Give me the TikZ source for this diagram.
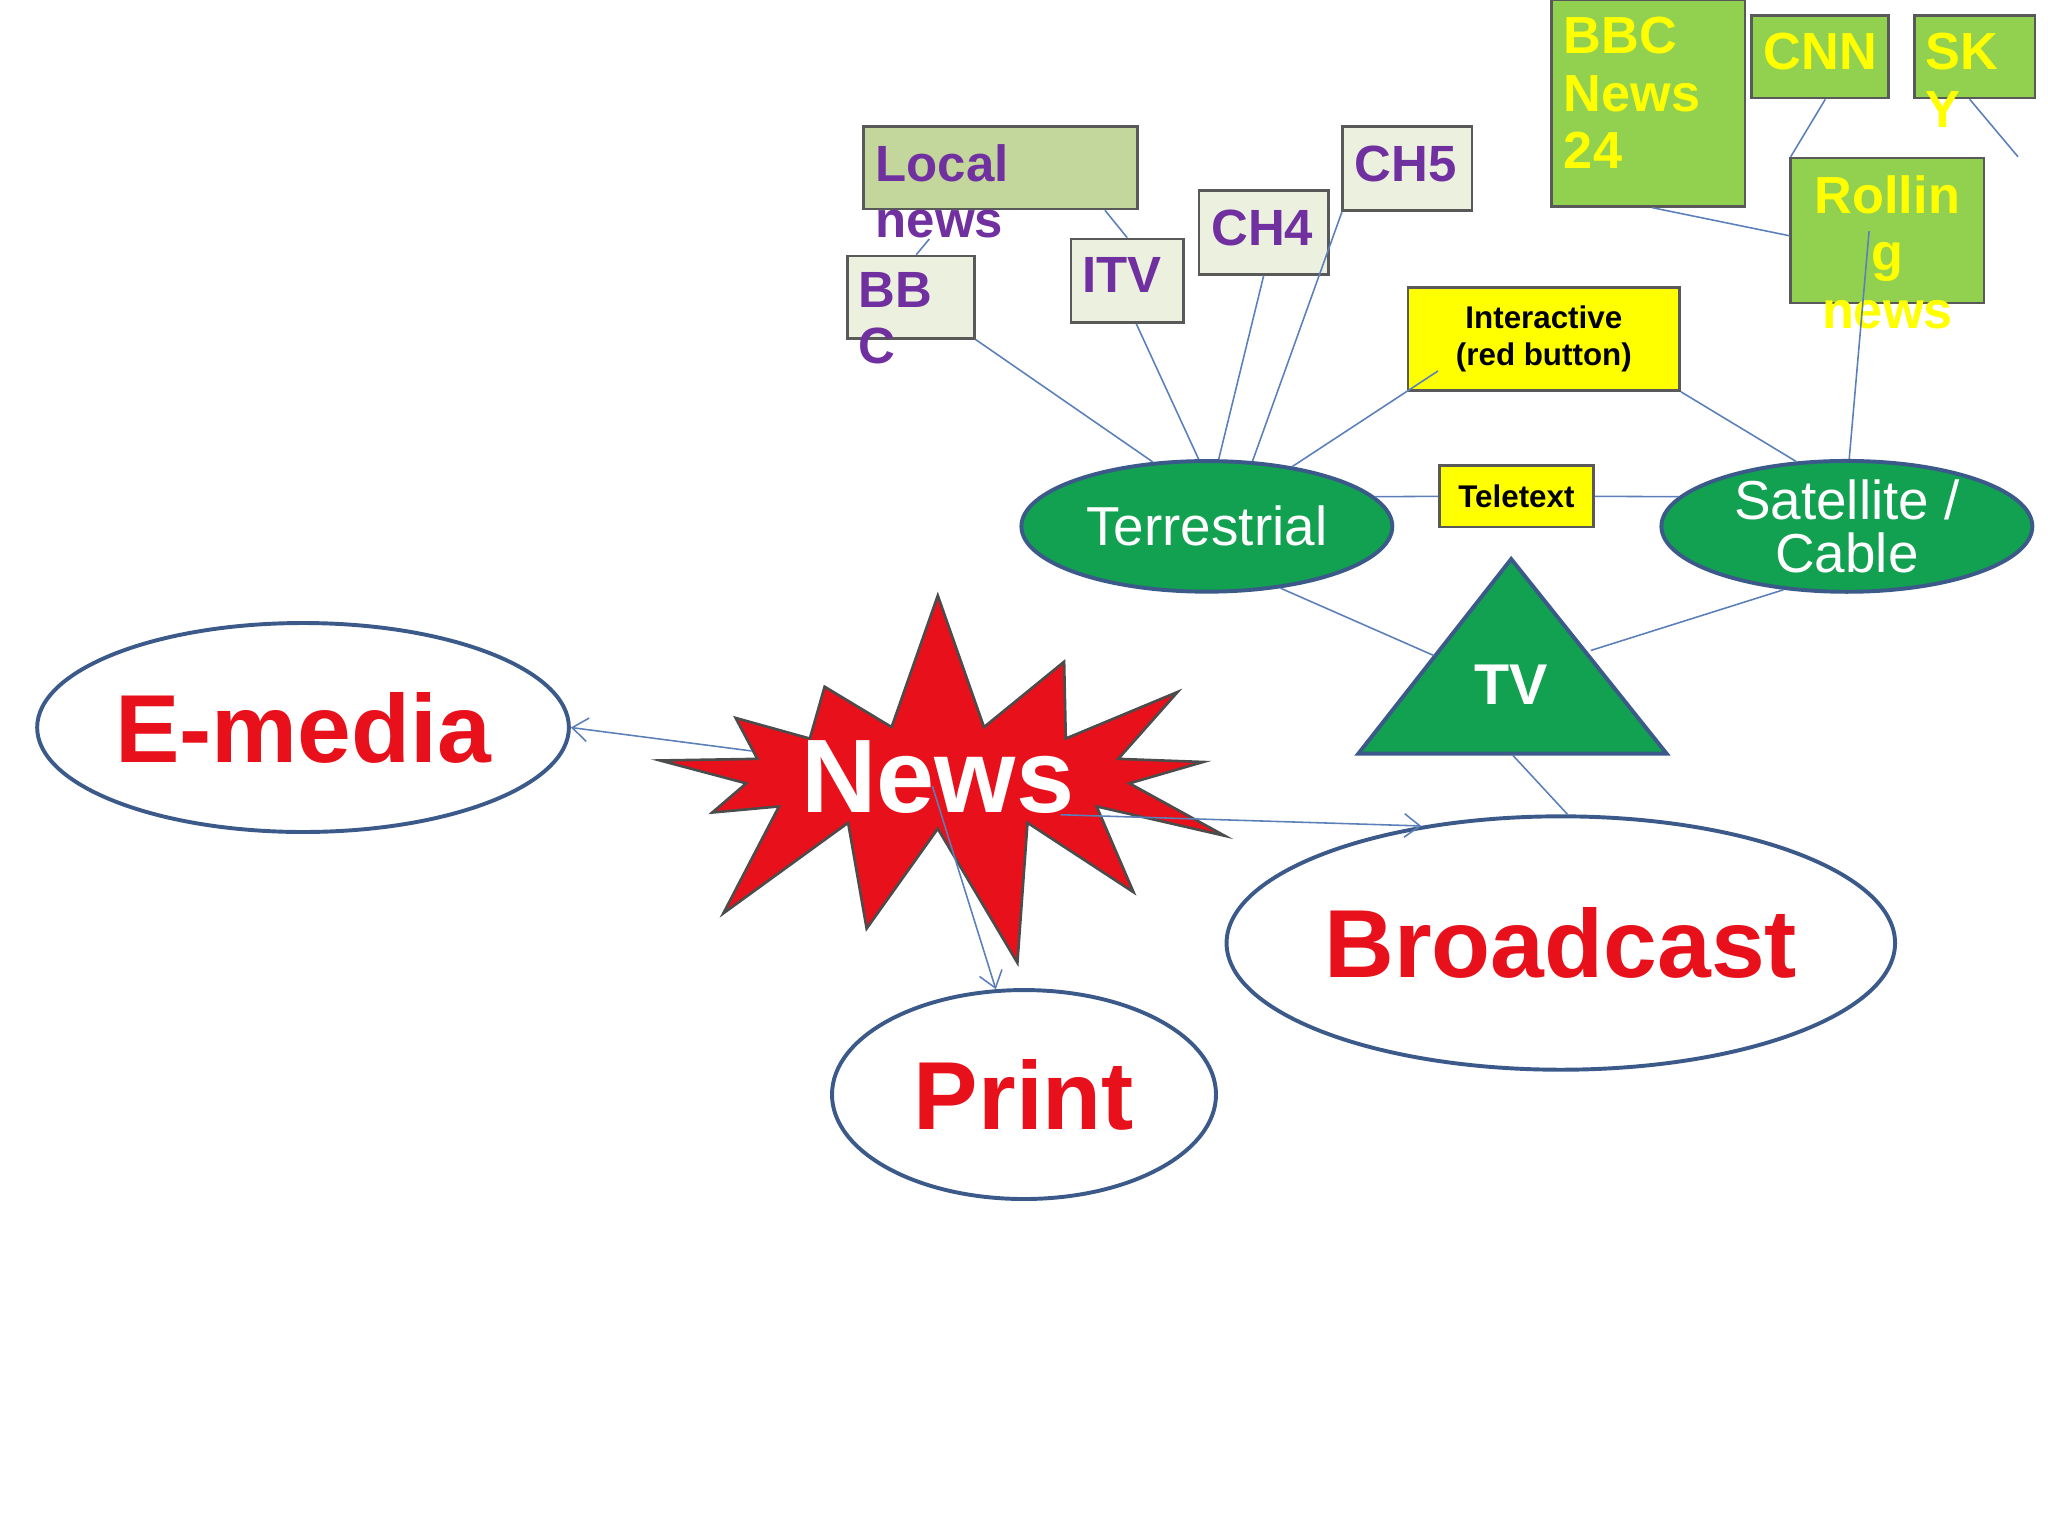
\documentclass[tikz,border=0pt]{standalone}
\usepackage{fontspec}
\setmainfont{Liberation Sans}
\usetikzlibrary{shapes.geometric,shapes.symbols,arrows.meta}
\definecolor{edgeblue}{HTML}{3B5A8A}
\definecolor{lineblue}{HTML}{5B7FB8}
\definecolor{tvgreen}{HTML}{12A150}
\definecolor{newsred}{HTML}{E8101A}
\definecolor{purp}{HTML}{7030A0}
\definecolor{lgreen}{HTML}{92D050}
\definecolor{olive}{HTML}{C3D69B}
\definecolor{pale}{HTML}{EBF1DE}
\definecolor{yel}{HTML}{FFFF00}
\begin{document}
\begin{tikzpicture}[x=0.5pt,y=-0.5pt,
  big/.style={ellipse,draw=edgeblue,line width=1.5pt,fill=white,text=newsred,font=\bfseries\fontsize{37}{40}\selectfont,inner sep=0pt},
  gell/.style={ellipse,draw=edgeblue,line width=1.5pt,fill=tvgreen,text=white,font=\fontsize{21}{23}\selectfont,align=center,inner sep=0pt},
  box/.style={rectangle,draw=gray!70!black,line width=1pt,inner sep=0pt},
  ptxt/.style={anchor=north west,text=purp,font=\bfseries\fontsize{19.5}{21.5}\selectfont,align=left,inner sep=0pt},
  ytxt/.style={anchor=north west,text=yel,font=\bfseries\fontsize{20}{22}\selectfont,align=left,inner sep=0pt},
  ln/.style={draw=lineblue,line width=0.6pt},
  arr/.style={draw=lineblue,line width=0.6pt,-{Straight Barb[length=6pt,width=9pt]}}]
\useasboundingbox (0,0) rectangle (1568,1176);
% big ellipses
\node[big,minimum width=196pt,minimum height=80pt] (em) at (232,557) {E-media};
\node[big,minimum width=147pt,minimum height=80pt] (pr) at (784,838) {Print};
\node[big,minimum width=202pt,minimum height=97pt] (bc) at (1195,722) {Broadcast};
% green ellipses
\node[gell,minimum width=142pt,minimum height=50pt] (te) at (924,403) {Terrestrial};
\node[gell,minimum width=142pt,minimum height=48pt] (sa) at (1414,403) {Satellite /\\[-3pt]Cable};
% TV triangle
\coordinate (tvt) at (1157,428);
\coordinate (tvl) at (1040,577);
\coordinate (tvr) at (1276,577);
\filldraw[fill=tvgreen,draw=edgeblue,line width=1.5pt] (tvt)--(tvl)--(tvr)--cycle;
\node[text=white,font=\bfseries\fontsize{22}{24}\selectfont] (tv) at (1157,524) {TV};
\coordinate (tvb) at (1158,578);
\coordinate (tvul) at (1098,502);
\coordinate (tvur) at (1218,498);
% boxes
\node[box,fill=yel,minimum width=59pt,minimum height=23.5pt,font=\bfseries\fontsize{12}{13}\selectfont] (tt) at (1161,380) {Teletext};
\node[box,fill=yel,minimum width=104pt,minimum height=39.5pt,align=center,font=\bfseries\fontsize{12}{14}\selectfont] (ia) at (1182,259.5) {Interactive\\(red button)};
\node[box,fill=olive,minimum width=105pt,minimum height=31.5pt] (lo) at (766,128.5) {};
\node[ptxt] at (670,110) {Local\\news};
\node[box,fill=pale,minimum width=48.5pt,minimum height=31.5pt] (bb) at (697.5,227.5) {};
\node[ptxt] at (657,208) {BB\\C};
\node[box,fill=pale,minimum width=43pt,minimum height=32pt] (itv) at (863,215) {};
\node[ptxt] at (828,197) {ITV};
\node[box,fill=pale,minimum width=49.5pt,minimum height=32pt] (c4) at (967.5,178) {};
\node[ptxt] at (927,160) {CH4};
\node[box,fill=pale,minimum width=49.5pt,minimum height=32pt] (c5) at (1077.5,129) {};
\node[ptxt] at (1037,111) {CH5};
\node[box,fill=lgreen,minimum width=74pt,minimum height=79pt] (b24) at (1262,79) {};
\node[ytxt] at (1197,13) {BBC\\News\\24};
\node[box,fill=lgreen,minimum width=52.5pt,minimum height=31.5pt] (cnn) at (1393.5,43.5) {};
\node[ytxt] at (1350,25) {CNN};
\node[box,fill=lgreen,minimum width=46pt,minimum height=31.5pt] (sky) at (1512,43.5) {};
\node[ytxt] at (1474,25) {SK\\Y};
\node[box,fill=lgreen,minimum width=74pt,minimum height=55.5pt] (rn) at (1445,176.5) {};
\node[ytxt,anchor=north,align=center] at (1445,134) {Rollin\\g\\news};
% News starburst
\node[starburst,starburst points=13,starburst point height=55pt,random starburst=7,fill=newsred,draw=black!70,line width=1pt,minimum width=185pt,minimum height=125pt,text=white,font=\bfseries\fontsize{40}{42}\selectfont,inner sep=0pt] (nw) at (718,595) {News};
% connectors
\draw[ln] (lo.south) ++(80,0) coordinate (l1) -- (itv.north);
\draw[ln] (bb.north) ++(4,0) coordinate (l2) -- ++(10,-12);
\draw[ln] (bb.south east) -- (te.130);
\draw[ln] (itv.south) ++(7,0) coordinate (i1) -- (te.97);
\draw[ln] (c4.south) -- (te.80);
\draw[ln] ([xshift=-25]c5.south) -- (te.55);
\draw[ln] ([xshift=-196pt*0+12]ia.south west) ++(0,-16) coordinate (ia1) -- (te.35);
\draw[ln] (ia.south east) -- (sa.128);
\draw[ln] (tt.west) -- (te.10);
\draw[ln] (tt.east) -- (sa.170);
\draw[ln] (te.-40) -- (tvul);
\draw[ln] (sa.-135) -- (tvur);
\draw[ln] (tvb) -- (bc.87);
\draw[ln] ([xshift=-7,yshift=28]rn.south) -- (sa.88);
\draw[ln] ([xshift=-36]b24.south east) -- ([yshift=-2]rn.west);
\draw[ln] ([xshift=2]cnn.south) -- ([xshift=-37]rn.north);
\draw[ln] ([xshift=-2]sky.south) -- ([xshift=50]rn.north);
\draw[arr] (nw.172) -- (em.east);
\draw[arr] ([xshift=-20,yshift=10]nw.-20) -- (bc.140);
\draw[arr] ([yshift=20]nw.-95) -- (pr.105);
\end{tikzpicture}
\end{document}
